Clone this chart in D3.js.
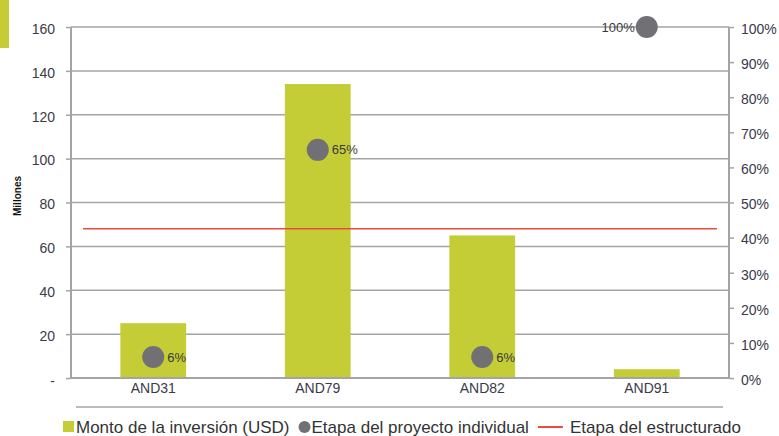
<!DOCTYPE html>
<html>
<head>
<meta charset="utf-8">
<script src="https://cdn.jsdelivr.net/npm/d3@7"></script>
<style>
  body { margin: 0; background: #fff; }
  svg { display: block; font-family: "Liberation Sans", Arial, sans-serif; }
  .tick text { fill: #3a3a4a; font-size: 14px; }
</style>
</head>
<body>
<div id="chart"></div>
<script>
// data
var categories = ['AND31', 'AND79', 'AND82', 'AND91'];
var inversion = [25, 134, 65, 4];          // millones USD
var etapaIndividual = [0.06, 0.65, 0.06, 1.0];
var etapaEstructurado = 0.425;
var leftTicks = [0, 20, 40, 60, 80, 100, 120, 140, 160];
var rightTicks = [0, 0.1, 0.2, 0.3, 0.4, 0.5, 0.6, 0.7, 0.8, 0.9, 1.0];
var legendLabels = ['Monto de la inversión (USD)', 'Etapa del proyecto individual', 'Etapa del estructurado'];

var attrs = {
  width: 779,
  height: 436,
  margin: { top: 27, right: 50, bottom: 58, left: 71 },
  green: '#c4cc36',
  gray: '#707075',
  red: '#ec4a3c',
  grid: '#a4a4a4'
};

var chartWidth = attrs.width - attrs.margin.left - attrs.margin.right;
var chartHeight = attrs.height - attrs.margin.top - attrs.margin.bottom;

var svg = d3.select('#chart').append('svg')
  .attr('width', attrs.width)
  .attr('height', attrs.height);

// green tab top left
svg.append('rect')
  .attr('x', 0).attr('y', 0)
  .attr('width', 9).attr('height', 48)
  .attr('fill', attrs.green);

var chart = svg.append('g')
  .attr('transform', `translate(${attrs.margin.left}, ${attrs.margin.top})`);

var x = d3.scaleBand().domain(categories).range([0, chartWidth]).paddingInner(0.6).paddingOuter(0.3);
var y = d3.scaleLinear().domain([0, 160]).range([chartHeight, 0]);
var y2 = d3.scaleLinear().domain([0, 1]).range([chartHeight, 0]);

// gridlines
chart.append('g').selectAll('line')
  .data(leftTicks.slice(1))
  .join('line')
  .attr('x1', 0).attr('x2', chartWidth)
  .attr('y1', d => y(d)).attr('y2', d => y(d))
  .attr('stroke', attrs.grid).attr('stroke-width', 1.5);

// bars
chart.append('g').selectAll('rect')
  .data(inversion)
  .join('rect')
  .attr('x', (d, i) => x(categories[i]))
  .attr('width', x.bandwidth())
  .attr('y', d => y(d))
  .attr('height', d => y(0) - y(d))
  .attr('fill', attrs.green);

// structured line
var inset = 12;
chart.append('line')
  .attr('x1', inset).attr('x2', chartWidth - inset)
  .attr('y1', y2(etapaEstructurado)).attr('y2', y2(etapaEstructurado))
  .attr('stroke', attrs.red).attr('stroke-width', 1.5);

// axes
var leftAxis = d3.axisLeft(y).tickValues(leftTicks).tickSize(5).tickPadding(11)
  .tickFormat(d => d === 0 ? '-' : d);
var gl = chart.append('g').call(leftAxis);

var rightAxis = d3.axisRight(y2).tickValues(rightTicks).tickSize(5).tickPadding(7)
  .tickFormat(d3.format('.0%'));
var gr = chart.append('g').attr('transform', `translate(${chartWidth},0)`).call(rightAxis);

[gl, gr].forEach(function (g) {
  g.select('.domain').remove();
  g.selectAll('.tick line').attr('stroke', attrs.grid).attr('stroke-width', 1.5);
  g.selectAll('.tick text').attr('dy', '0.45em');
});
gl.select('.tick text').attr('dy', '0.55em');

// axis lines
chart.append('line').attr('x1', 0).attr('x2', 0).attr('y1', 0).attr('y2', chartHeight)
  .attr('stroke', attrs.grid).attr('stroke-width', 2);
chart.append('line').attr('x1', chartWidth).attr('x2', chartWidth).attr('y1', 0).attr('y2', chartHeight)
  .attr('stroke', attrs.grid).attr('stroke-width', 2);
chart.append('line').attr('x1', 0).attr('x2', chartWidth).attr('y1', chartHeight).attr('y2', chartHeight)
  .attr('stroke', attrs.grid).attr('stroke-width', 2);

// category labels
var bottomAxis = d3.axisBottom(x).tickSize(0).tickPadding(4);
var gb = chart.append('g').attr('transform', `translate(0,${chartHeight})`).call(bottomAxis);
gb.select('.domain').remove();
gb.selectAll('.tick text').attr('dy', '0.8em');

// dots
var dots = chart.append('g').selectAll('g')
  .data(etapaIndividual)
  .join('g')
  .attr('transform', (d, i) => `translate(${x(categories[i]) + x.bandwidth() / 2},${Math.max(y2(d), -3)})`);

dots.append('circle').attr('r', 11).attr('fill', attrs.gray);
dots.append('text')
  .attr('x', d => d >= 1 ? -12 : 14)
  .attr('dy', '0.35em')
  .attr('text-anchor', d => d >= 1 ? 'end' : 'start')
  .attr('font-size', 13)
  .attr('fill', '#3a3a3a')
  .text(d3.format('.0%'));

// y title
svg.append('text')
  .attr('transform', 'translate(21,196) rotate(-90)')
  .attr('text-anchor', 'middle')
  .attr('font-size', 10)
  .attr('font-weight', 'bold')
  .attr('fill', '#111')
  .text('Millones');

// separator
svg.append('line')
  .attr('x1', 76).attr('x2', 723)
  .attr('y1', 407).attr('y2', 407)
  .attr('stroke', attrs.grid).attr('stroke-width', 1.5);

// legend
var legend = svg.append('g').attr('transform', 'translate(63,427)');
var lx = 0;
legendLabels.forEach(function (label, i) {
  var g = legend.append('g').attr('transform', `translate(${lx},0)`);
  var off;
  if (i === 0) {
    g.append('rect').attr('x', 0).attr('y', -6).attr('width', 11).attr('height', 11).attr('fill', attrs.green);
    off = 13;
  } else if (i === 1) {
    g.append('circle').attr('cx', 6).attr('cy', 0).attr('r', 6).attr('fill', attrs.gray);
    off = 13;
  } else {
    g.append('line').attr('x1', 0).attr('x2', 25).attr('y1', 0).attr('y2', 0).attr('stroke', attrs.red).attr('stroke-width', 2);
    off = 32;
  }
  var t = g.append('text').attr('x', off).attr('dy', '0.35em')
    .attr('font-size', 17).attr('fill', '#333').text(label);
  lx += off + t.node().getComputedTextLength() + 9;
});
</script>
</body>
</html>
